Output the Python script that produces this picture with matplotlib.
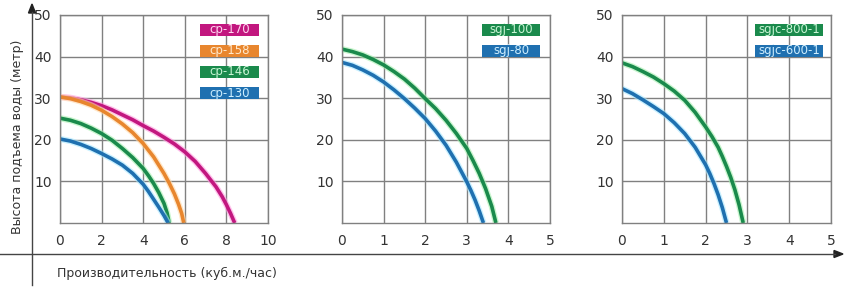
import matplotlib.pyplot as plt
from matplotlib.patches import Rectangle

# panel 1: cp series (flow m3/h, head m)
cp170_x = [0, 0.5, 1, 1.5, 2, 2.5, 3, 3.5, 4, 4.5, 5, 5.5, 6, 6.5, 7, 7.5, 7.8, 8, 8.2, 8.4]
cp170_y = [30.3, 30.1, 29.6, 29.0, 28.2, 27.2, 26.0, 24.8, 23.4, 22.1, 20.6, 19.0, 17.1, 14.8,
           11.9, 8.7, 6.3, 4.4, 2.3, 0]
cp158_x = [0, 0.5, 1, 1.5, 2, 2.5, 3, 3.5, 4, 4.5, 5, 5.25, 5.5, 5.7, 5.85, 5.95]
cp158_y = [30.3, 29.9, 29.2, 28.3, 27.1, 25.6, 23.8, 21.7, 19.1, 15.9, 11.9, 9.6, 7.0, 4.5, 2.3, 0]
cp146_x = [0, 0.5, 1, 1.5, 2, 2.5, 3, 3.5, 4, 4.25, 4.5, 4.75, 5, 5.15, 5.25]
cp146_y = [25.2, 24.7, 23.9, 22.8, 21.5, 19.9, 17.9, 15.7, 13.1, 11.4, 9.5, 7.3, 4.7, 2.4, 0]
cp130_x = [0, 0.5, 1, 1.5, 2, 2.5, 3, 3.5, 4, 4.25, 4.5, 4.75, 5, 5.2]
cp130_y = [20.2, 19.7, 18.9, 17.9, 16.7, 15.4, 13.9, 11.9, 9.3, 7.6, 5.7, 3.8, 1.8, 0]

# panel 2: sgj series
sgj100_x = [0, 0.25, 0.5, 0.75, 1, 1.25, 1.5, 1.75, 2, 2.25, 2.5, 2.75, 3, 3.15, 3.3, 3.45,
            3.6, 3.7]
sgj100_y = [41.8, 41.2, 40.4, 39.3, 38.0, 36.4, 34.6, 32.4, 29.9, 27.5, 24.7, 21.5, 17.9, 15.0,
            11.9, 8.3, 4.0, 0]
sgj80_x = [0, 0.25, 0.5, 0.75, 1, 1.25, 1.5, 1.75, 2, 2.25, 2.5, 2.75, 3, 3.1, 3.2, 3.3, 3.4]
sgj80_y = [38.6, 37.9, 36.8, 35.5, 33.9, 32.0, 29.9, 27.6, 25.1, 22.1, 18.7, 14.6, 9.9, 7.8,
           5.5, 2.9, 0]

# panel 3: sgjc series
sgjc800_x = [0, 0.25, 0.5, 0.75, 1, 1.25, 1.5, 1.75, 2, 2.15, 2.3, 2.4, 2.5, 2.6, 2.7, 2.8, 2.9]
sgjc800_y = [38.5, 37.6, 36.4, 35.1, 33.5, 31.7, 29.5, 26.6, 23.1, 20.8, 18.2, 16.0, 13.6, 11.0,
             8.0, 4.4, 0]
sgjc600_x = [0, 0.25, 0.5, 0.75, 1, 1.25, 1.5, 1.75, 2, 2.1, 2.2, 2.3, 2.4, 2.5]
sgjc600_y = [32.3, 31.1, 29.6, 28.0, 26.3, 24.1, 21.5, 18.2, 14.0, 11.9, 9.5, 6.8, 3.7, 0]

MAGENTA, ORANGE, GREEN, BLUE = "#c2177f", "#e8862e", "#1a8a4c", "#1f70b0"
LIGHT = {MAGENTA: "#ffd6f0", ORANGE: "#ffe9cc", GREEN: "#c8f5d4", BLUE: "#cdeeff"}
GLOW = {MAGENTA: "#ff9be0", ORANGE: "#ffd9a8", GREEN: "#a8f0b0", BLUE: "#a8e8ff"}

W, H = 848, 288
fig = plt.figure(figsize=(W / 100, H / 100), dpi=100)


def px_axes(left, right, top, bottom):
    return fig.add_axes([left / W, 1 - bottom / H, (right - left) / W, (bottom - top) / H])


def setup(ax, xmax, xstep):
    ax.set_xlim(0, xmax)
    ax.set_ylim(0, 50)
    ax.set_xticks(range(0, xmax + 1, xstep))
    ax.set_yticks([10, 20, 30, 40, 50])
    ax.grid(True, color="#808080", linewidth=1.0)
    ax.set_axisbelow(True)
    for s in ax.spines.values():
        s.set_color("#808080")
        s.set_linewidth(1.0)
    ax.tick_params(length=0, labelsize=10, labelcolor="#333333")
    ax.tick_params(axis="x", pad=8)
    ax.tick_params(axis="y", pad=6)


def curve(ax, x, y, color):
    ax.plot(x, y, color=GLOW[color], linewidth=4.5, alpha=0.6, solid_capstyle="butt",
            solid_joinstyle="round")
    ax.plot(x, y, color=color, linewidth=2.6, solid_capstyle="butt", solid_joinstyle="round")


def tags(ax, x0, x1, items):
    for i, (label, color) in enumerate(items):
        top = 0.957 - i * 0.101
        ax.add_patch(Rectangle((x0, top - 0.058), x1 - x0, 0.058, transform=ax.transAxes,
                               facecolor=color, edgecolor="none", zorder=5))
        ax.text((x0 + x1) / 2, top - 0.029, label, transform=ax.transAxes, ha="center",
                va="center", color=LIGHT[color], fontsize=8.5, zorder=6)


ax1 = px_axes(60, 268, 15, 223)
setup(ax1, 10, 2)
curve(ax1, cp170_x, cp170_y, MAGENTA)
curve(ax1, cp158_x, cp158_y, ORANGE)
curve(ax1, cp146_x, cp146_y, GREEN)
curve(ax1, cp130_x, cp130_y, BLUE)
tags(ax1, 0.673, 0.957, [("cp-170", MAGENTA), ("cp-158", ORANGE), ("cp-146", GREEN), ("cp-130", BLUE)])

ax2 = px_axes(342, 550, 15, 223)
setup(ax2, 5, 1)
curve(ax2, sgj100_x, sgj100_y, GREEN)
curve(ax2, sgj80_x, sgj80_y, BLUE)
tags(ax2, 0.673, 0.952, [("sgj-100", GREEN), ("sgj-80", BLUE)])

ax3 = px_axes(622, 831, 15, 223)
setup(ax3, 5, 1)
curve(ax3, sgjc800_x, sgjc800_y, GREEN)
curve(ax3, sgjc600_x, sgjc600_y, BLUE)
tags(ax3, 0.636, 0.962, [("sgjc-800-1", GREEN), ("sgjc-600-1", BLUE)])

# outer arrows
fig.add_artist(plt.Line2D([0, 835 / W], [1 - 254 / H] * 2, color="#444444", linewidth=1.0))
fig.patches.append(plt.Polygon([[834 / W, 1 - 250.5 / H], [843 / W, 1 - 254 / H], [834 / W, 1 - 257.5 / H]],
                               closed=True, color="#222222", transform=fig.transFigure))
fig.add_artist(plt.Line2D([32 / W] * 2, [1 - 285 / H, 1 - 12 / H], color="#444444", linewidth=1.0))
fig.patches.append(plt.Polygon([[28.5 / W, 1 - 13 / H], [32 / W, 1 - 4 / H], [35.5 / W, 1 - 13 / H]],
                               closed=True, color="#222222", transform=fig.transFigure))

fig.text(18 / W, 1 - 137 / H, "Высота подъема воды (метр)", rotation=90, ha="center", va="center",
         fontsize=9, color="#333333")
fig.text(57 / W, 1 - 273 / H, "Производительность (куб.м./час)", ha="left", va="center",
         fontsize=9, color="#333333")

fig.savefig("out.png", dpi=100)
